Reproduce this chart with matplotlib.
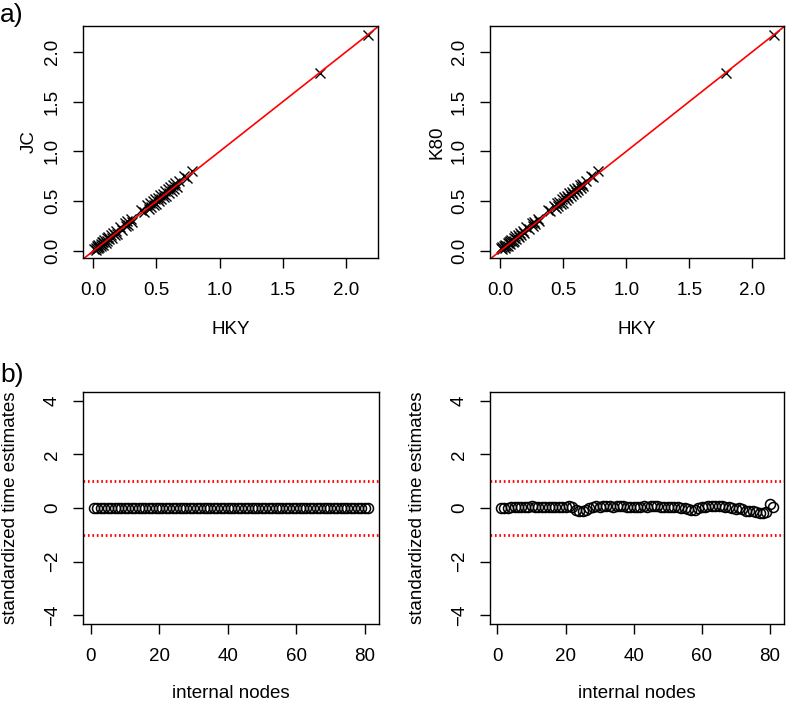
import matplotlib
matplotlib.use("Agg")
import matplotlib.pyplot as plt

plt.rcParams["font.family"] = ["Liberation Sans", "DejaVu Sans"]

# a) node ages under HKY against JC / K80
hky = [0.01, 0.02, 0.02, 0.03, 0.04, 0.04, 0.05, 0.06, 0.06, 0.07, 0.08, 0.08,
       0.09, 0.10, 0.11, 0.11, 0.12, 0.13, 0.14, 0.15, 0.16, 0.17, 0.18, 0.19,
       0.21, 0.23, 0.25, 0.26, 0.27, 0.28, 0.30, 0.31,
       0.38, 0.40, 0.43, 0.44, 0.45, 0.46, 0.47, 0.48, 0.49, 0.50, 0.51, 0.52,
       0.53, 0.54, 0.55, 0.56, 0.57, 0.58, 0.59, 0.60, 0.61, 0.62, 0.63, 0.64,
       0.65, 0.66, 0.68,
       0.72, 0.74, 0.78,
       1.79, 2.17]
jc = [0.02, 0.03, 0.01, 0.05, 0.03, 0.06, 0.04, 0.07, 0.05, 0.09, 0.06, 0.09,
      0.11, 0.08, 0.13, 0.10, 0.14, 0.12, 0.16, 0.13, 0.18, 0.16, 0.20, 0.17,
      0.24, 0.21, 0.28, 0.25, 0.30, 0.26, 0.32, 0.29,
      0.41, 0.39, 0.46, 0.42, 0.48, 0.44, 0.50, 0.46, 0.52, 0.47, 0.53, 0.50,
      0.56, 0.52, 0.57, 0.54, 0.60, 0.55, 0.62, 0.58, 0.64, 0.60, 0.66, 0.62,
      0.68, 0.64, 0.70,
      0.75, 0.73, 0.80,
      1.79, 2.17]
k80 = [0.03, 0.02, 0.04, 0.05, 0.03, 0.06, 0.05, 0.08, 0.05, 0.09, 0.07, 0.10,
       0.11, 0.09, 0.13, 0.10, 0.15, 0.12, 0.16, 0.14, 0.18, 0.16, 0.20, 0.18,
       0.24, 0.22, 0.28, 0.25, 0.29, 0.27, 0.32, 0.30,
       0.41, 0.40, 0.45, 0.43, 0.48, 0.45, 0.49, 0.47, 0.52, 0.48, 0.54, 0.51,
       0.55, 0.53, 0.58, 0.55, 0.59, 0.57, 0.62, 0.59, 0.63, 0.61, 0.66, 0.63,
       0.67, 0.65, 0.70,
       0.75, 0.74, 0.80,
       1.79, 2.17]

# b) standardized time estimates per internal node
nodes = list(range(1, 82))
std_jc = [0.0] * 81
std_k80 = [0.00, 0.01, 0.00, 0.02, 0.03, 0.04, 0.05, 0.04, 0.05, 0.06,
           0.05, 0.04, 0.03, 0.04, 0.05, 0.04, 0.03, 0.02, 0.03, 0.05,
           0.06, 0.02, -0.08, -0.12, -0.10, -0.06, 0.00, 0.04, 0.06, 0.05,
           0.06, 0.07, 0.06, 0.05, 0.06, 0.07, 0.06, 0.05, 0.04, 0.03,
           0.04, 0.05, 0.06, 0.05, 0.06, 0.07, 0.06, 0.05, 0.04, 0.03,
           0.02, 0.03, 0.02, 0.01, 0.00, -0.04, -0.08, -0.06, 0.01, 0.04,
           0.05, 0.06, 0.07, 0.06, 0.07, 0.06, 0.05, 0.03, 0.00, -0.03,
           0.00, -0.05, -0.10, -0.12, -0.10, -0.14, -0.18, -0.20, -0.16, 0.14,
           0.05]

fig = plt.figure(figsize=(7.86, 7.01), dpi=100)
W, H = 786.0, 701.0
FS = 13.5


def make_ax(x0, y_top, w, h):
    return fig.add_axes([x0 / W, 1 - (y_top + h) / H, w / W, h / H])


def style(ax):
    for s in ax.spines.values():
        s.set_linewidth(1.0)
    ax.tick_params(direction="out", length=7, width=1.0, labelsize=FS, pad=9)
    ax.tick_params(axis="x", pad=10)
    ax.tick_params(axis="y", labelrotation=90)
    for lab in ax.get_yticklabels():
        lab.set_va("center")


top_axes = [make_ax(83, 26, 295, 232), make_ax(490, 26, 294, 232)]
for ax, yv, name in zip(top_axes, [jc, k80], ["JC", "K80"]):
    ax.plot(hky, yv, "x", color="black", markersize=7, markeredgewidth=1.0)
    ax.axline((0, 0), slope=1, color="red", linewidth=1.2)
    ax.set_xlim(-0.079, 2.25)
    ax.set_ylim(-0.068, 2.257)
    ax.set_xticks([0.0, 0.5, 1.0, 1.5, 2.0])
    ax.set_yticks([0.0, 0.5, 1.0, 1.5, 2.0])
    ax.set_xticklabels(["0.0", "0.5", "1.0", "1.5", "2.0"])
    ax.set_yticklabels(["0.0", "0.5", "1.0", "1.5", "2.0"])
    style(ax)
    ax.set_xlabel("HKY", fontsize=FS, va="center")
    ax.set_ylabel(name, fontsize=FS)
    ax.xaxis.set_label_coords(0.5, -0.31)
    ax.yaxis.set_label_coords(-0.153, 0.5)

bot_axes = [make_ax(83, 392, 296, 232), make_ax(490, 392, 294, 232)]
for ax, yv in zip(bot_axes, [std_jc, std_k80]):
    ax.plot(nodes, yv, "o", markerfacecolor="none", markeredgecolor="black",
            markersize=7.2, markeredgewidth=1.1)
    for h in (1, -1):
        ax.axhline(h, color="red", linewidth=2.0, linestyle=(0, (0.6, 1.0)))
    ax.set_xlim(-2.2, 84.2)
    ax.set_ylim(-4.32, 4.32)
    ax.set_xticks([0, 20, 40, 60, 80])
    ax.set_yticks([-4, -2, 0, 2, 4])
    style(ax)
    ax.set_xlabel("internal nodes", fontsize=FS, va="center")
    ax.set_ylabel("standardized time estimates", fontsize=FS)
    ax.xaxis.set_label_coords(0.5, -0.30)
    ax.yaxis.set_label_coords(-0.216, 0.5)

fig.text(0.0, 1 - 15 / H, "a)", fontsize=19, va="center", ha="left")
fig.text(0.0, 1 - 375 / H, "b)", fontsize=19, va="center", ha="left")

fig.savefig("out.png", dpi=100)
